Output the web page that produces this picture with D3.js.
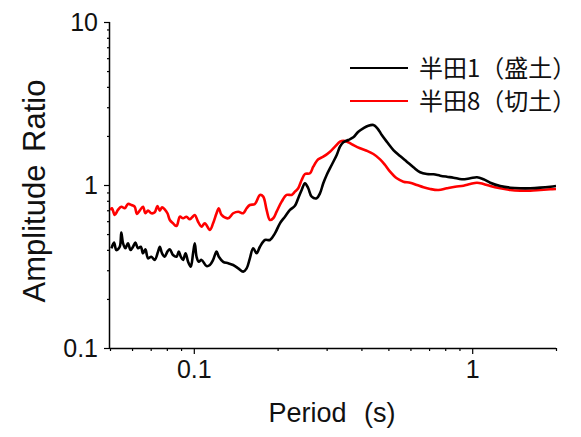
<!DOCTYPE html>
<html><head><meta charset="utf-8">
<script src="https://cdn.jsdelivr.net/npm/d3@7"></script>
<style>body{margin:0;background:#fff}</style>
</head><body>
<svg id="c" width="581" height="437"></svg>
<script>
const seriesNames = ["半田1（盛土）", "半田8（切土）"];
const seriesColors = ["#000000", "#ff0000"];
const xTicksMajor = [0.1, 1];
const yTicksMajor = [0.1, 1, 10];

// 半田1(盛土): [period (s), amplitude ratio]
const handa1 = [
[0.0506,0.409],[0.0517,0.443],[0.0527,0.399],[0.0542,0.418],[0.0549,0.510],[0.0557,0.439],[0.0568,0.409],
[0.0580,0.439],[0.0593,0.399],[0.0605,0.418],[0.0617,0.443],[0.0630,0.409],[0.0645,0.418],[0.0657,0.381],
[0.0670,0.403],[0.0685,0.355],[0.0704,0.363],[0.0724,0.347],[0.0744,0.390],[0.0755,0.418],[0.0769,0.381],
[0.0786,0.363],[0.0804,0.390],[0.0820,0.403],[0.0842,0.372],[0.0867,0.363],[0.0883,0.390],[0.0898,0.363],
[0.0915,0.347],[0.0934,0.381],[0.0954,0.338],[0.0975,0.315],[0.0994,0.381],[0.1008,0.439],[0.1023,0.363],
[0.1042,0.338],[0.1066,0.347],[0.1111,0.318],[0.1142,0.323],[0.1173,0.347],[0.1207,0.390],[0.1230,0.363],
[0.1275,0.338],[0.1329,0.331],[0.1385,0.323],[0.1444,0.308],[0.1505,0.294],[0.1548,0.308],[0.1590,0.355],
[0.1634,0.409],[0.1681,0.381],[0.1728,0.418],[0.1801,0.460],[0.1877,0.460],[0.1956,0.505],[0.2039,0.582],
[0.2125,0.639],[0.2215,0.703],[0.2308,0.745],[0.2372,0.829],[0.2440,0.932],[0.2508,1.024],[0.2577,0.955],
[0.2651,0.848],[0.2763,0.829],[0.2839,0.889],[0.2918,1.024],[0.3001,1.152],[0.3128,1.327],[0.3261,1.528],
[0.3351,1.718],[0.3444,1.828],[0.3589,1.889],[0.3741,1.962],[0.3899,2.123],[0.4064,2.228],[0.4236,2.311],
[0.4416,2.334],[0.4565,2.228],[0.4734,2.026],[0.4934,1.843],[0.5211,1.639],[0.5508,1.506],[0.5822,1.390],
[0.6150,1.284],[0.6501,1.197],[0.6872,1.168],[0.7259,1.163],[0.7674,1.141],[0.8110,1.124],[0.8565,1.109],
[0.9182,1.084],[0.9836,1.099],[1.040,1.115],[1.098,1.084],[1.161,1.033],[1.261,0.986],[1.370,0.963],
[1.489,0.955],[1.617,0.955],[1.757,0.963],[1.909,0.976],[2.0,0.986]
];

// 半田8(切土): [period (s), amplitude ratio]
const handa8 = [
[0.0500,0.703],[0.0508,0.720],[0.0520,0.655],[0.0534,0.703],[0.0549,0.736],[0.0565,0.720],[0.0580,0.765],
[0.0597,0.754],[0.0613,0.736],[0.0625,0.664],[0.0639,0.696],[0.0657,0.736],[0.0670,0.671],[0.0685,0.696],
[0.0704,0.671],[0.0724,0.680],[0.0740,0.743],[0.0755,0.696],[0.0769,0.730],[0.0786,0.709],[0.0804,0.671],
[0.0820,0.610],[0.0842,0.582],[0.0867,0.560],[0.0891,0.639],[0.0915,0.625],[0.0941,0.639],[0.0967,0.616],
[0.0986,0.634],[0.1008,0.655],[0.1036,0.595],[0.1066,0.555],[0.1095,0.582],[0.1142,0.530],[0.1173,0.582],
[0.1207,0.671],[0.1230,0.720],[0.1258,0.655],[0.1329,0.625],[0.1385,0.671],[0.1444,0.686],[0.1505,0.671],
[0.1548,0.720],[0.1590,0.754],[0.1657,0.765],[0.1728,0.869],[0.1776,0.848],[0.1826,0.703],[0.1877,0.610],
[0.1929,0.625],[0.1984,0.686],[0.2068,0.790],[0.2155,0.869],[0.2246,0.869],[0.2308,0.910],[0.2372,0.955],
[0.2440,1.073],[0.2508,1.168],[0.2614,1.180],[0.2686,1.295],[0.2800,1.437],[0.2918,1.491],[0.3085,1.601],
[0.3215,1.718],[0.3351,1.843],[0.3444,1.870],[0.3589,1.828],[0.3741,1.759],[0.3955,1.680],[0.4180,1.623],
[0.4416,1.550],[0.4668,1.437],[0.4865,1.327],[0.5070,1.207],[0.5359,1.099],[0.5661,1.048],[0.5984,1.033],
[0.6326,1.000],[0.6682,0.968],[0.7063,0.945],[0.7567,0.932],[0.8110,0.955],[0.8686,0.976],[0.9305,0.990],
[0.9836,1.014],[1.040,1.033],[1.098,1.014],[1.161,0.986],[1.261,0.955],[1.370,0.932],[1.489,0.923],
[1.617,0.923],[1.757,0.932],[1.909,0.941],[2.0,0.945]
];

const svg = d3.select("#c");
const L = 110, R = 556, T = 22, B = 348;
const x = d3.scaleLog().domain([0.05, 2]).range([L, R]);
const y = d3.scaleLog().domain([0.1, 10]).range([B, T]);

const numFont = "'Liberation Sans', Arial, sans-serif";

// minor tick values
const xMinor = [];
[0.01, 0.1, 1].forEach(b => { for (let k = 1; k <= 9; k++) { const v = +(b * k).toPrecision(3); if (v >= 0.05 && v <= 2 && !xTicksMajor.includes(v)) xMinor.push(v); } });
const yMinor = [];
[0.1, 1].forEach(b => { for (let k = 2; k <= 9; k++) yMinor.push(+(b * k).toPrecision(3)); });

// X axis
const gx = svg.append("g").attr("transform", `translate(0,${B})`);
gx.call(d3.axisBottom(x).tickValues(xMinor).tickSize(3).tickFormat("").tickSizeOuter(0));
gx.call(g => g.select(".domain").remove());
const gx2 = svg.append("g").attr("transform", `translate(0,${B})`)
  .call(d3.axisBottom(x).tickValues(xTicksMajor).tickSize(6).tickSizeOuter(0).tickPadding(6).tickFormat(d3.format("~g")));
gx2.select(".domain").attr("d", `M${L},0.5H${R}`);
gx2.selectAll("text").attr("font-family", numFont).attr("font-size", 25).attr("fill", "#111");

// Y axis
const gy = svg.append("g").attr("transform", `translate(${L},0)`);
gy.call(d3.axisLeft(y).tickValues(yMinor).tickSize(3).tickFormat("").tickSizeOuter(0));
gy.select(".domain").remove();
const gy2 = svg.append("g").attr("transform", `translate(${L},0)`)
  .call(d3.axisLeft(y).tickValues(yTicksMajor).tickSize(6).tickSizeOuter(0).tickPadding(6).tickFormat(d3.format("~g")));
gy2.select(".domain").attr("d", `M-0.5,${T}V${B}`);
gy2.selectAll("text").attr("font-family", numFont).attr("font-size", 25).attr("fill", "#111");
svg.selectAll(".tick line").attr("stroke", "#000").attr("stroke-width", 1.2);
svg.selectAll(".domain").attr("stroke", "#000").attr("stroke-width", 1.5);

// Lines
const line = d3.line().x(d => x(d[0])).y(d => y(d[1])).curve(d3.curveCatmullRom.alpha(0.5));
svg.append("defs").append("clipPath").attr("id", "pc").append("rect")
  .attr("x", L).attr("y", T).attr("width", R - L).attr("height", B - T);
const plot = svg.append("g").attr("clip-path", "url(#pc)");
[[handa8, 1], [handa1, 0]].forEach(([s, ci]) => {
  plot.append("path").datum(s).attr("d", line).attr("fill", "none")
    .attr("stroke", seriesColors[ci]).attr("stroke-width", 2.6).attr("stroke-linejoin", "round");
});

// Axis titles
svg.append("text").attr("x", 332).attr("y", 422).attr("text-anchor", "middle")
  .attr("font-family", numFont).attr("font-size", 27).attr("word-spacing", 10).attr("fill", "#111")
  .text("Period (s)");
svg.append("text").attr("transform", "translate(45,191) rotate(-90)").attr("text-anchor", "middle")
  .attr("font-family", numFont).attr("font-size", 31).attr("word-spacing", 4).attr("fill", "#111")
  .text("Amplitude Ratio");

// Legend
const lg = svg.append("g");
const legY = [68, 101];
seriesNames.forEach((n, i) => {
  lg.append("line").attr("x1", 350).attr("x2", 408).attr("y1", legY[i]).attr("y2", legY[i])
    .attr("stroke", seriesColors[i]).attr("stroke-width", 2.2);
  lg.append("text").attr("x", 419).attr("y", legY[i]).attr("dy", "0.36em")
    .attr("font-family", "'Noto Sans CJK JP', sans-serif").attr("font-size", 24).attr("fill", "#111")
    .text(n);
});
</script>
</body></html>
